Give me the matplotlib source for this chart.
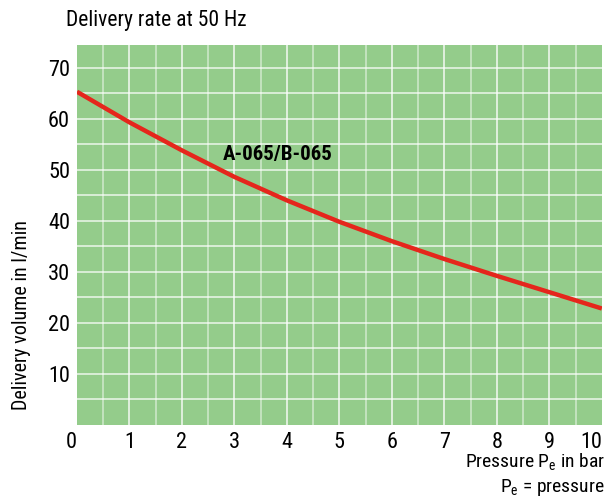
import matplotlib
matplotlib.use('Agg')
import matplotlib.pyplot as plt

plt.rcParams['font.family'] = ['Roboto Condensed', 'DejaVu Sans Condensed',
                               'Liberation Sans Narrow', 'DejaVu Sans']
plt.rcParams['font.stretch'] = 'condensed'
plt.rcParams['mathtext.fontset'] = 'custom'
plt.rcParams['mathtext.rm'] = 'Roboto Condensed'

# Förderleistung bei 50 Hz
pressure = [0, 1, 2, 3, 4, 5, 6, 7, 8, 9, 10]
volume = [65.3, 59.3, 53.8, 48.6, 44.0, 39.8, 36.0, 32.5, 29.2, 26.0, 22.8]
x_ticks = [0, 1, 2, 3, 4, 5, 6, 7, 8, 9, 10]
y_ticks = [10, 20, 30, 40, 50, 60, 70]
curve_label = 'A-065/B-065'

fig = plt.figure(figsize=(6.11, 4.98), dpi=100)
ax = fig.add_axes([0.126, 0.147, 0.859, 0.763])
ax.set_facecolor('#94cc8b')

# сетка
for v in [i * 0.5 for i in range(1, 20)]:
    a = 0.7 if v % 1 == 0 else 0.45
    ax.axvline(v, color='white', lw=1.4, alpha=a, zorder=1)
for h in range(5, 75, 5):
    ax.axhline(h, color='white', lw=1.4, alpha=0.65, zorder=1)

ax.plot(pressure, volume, color='#e5261c', lw=3.2, solid_capstyle='butt', zorder=3)
ax.text(2.78, 52.9, curve_label, fontsize=15, fontweight='bold', va='center', zorder=4)

ax.set_xlim(0, 10)
ax.set_ylim(0, 74.5)
ax.set_xticks(x_ticks)
ax.set_yticks(y_ticks)
ax.tick_params(length=0, labelsize=16, pad=5)
for s in ax.spines.values():
    s.set_visible(False)
labels = ax.get_xticklabels()
labels[0].set_ha('right')
labels[-1].set_ha('right')

fig.text(66 / 611, 1 - 20 / 498, 'Delivery rate at 50 Hz', fontsize=15.5, va='center')
fig.text(22 / 611, 88 / 498, 'Delivery volume in l/min', fontsize=14.5,
         rotation=90, ha='center', va='bottom')
fig.text(605 / 611, 1 - 462 / 498, r'Pressure P$_\mathrm{e}$ in bar', fontsize=14,
         ha='right', va='center')
fig.text(605 / 611, 1 - 487 / 498, r'P$_\mathrm{e}$ = pressure', fontsize=14,
         ha='right', va='center')

fig.savefig('out.png', dpi=100)
plt.close(fig)
